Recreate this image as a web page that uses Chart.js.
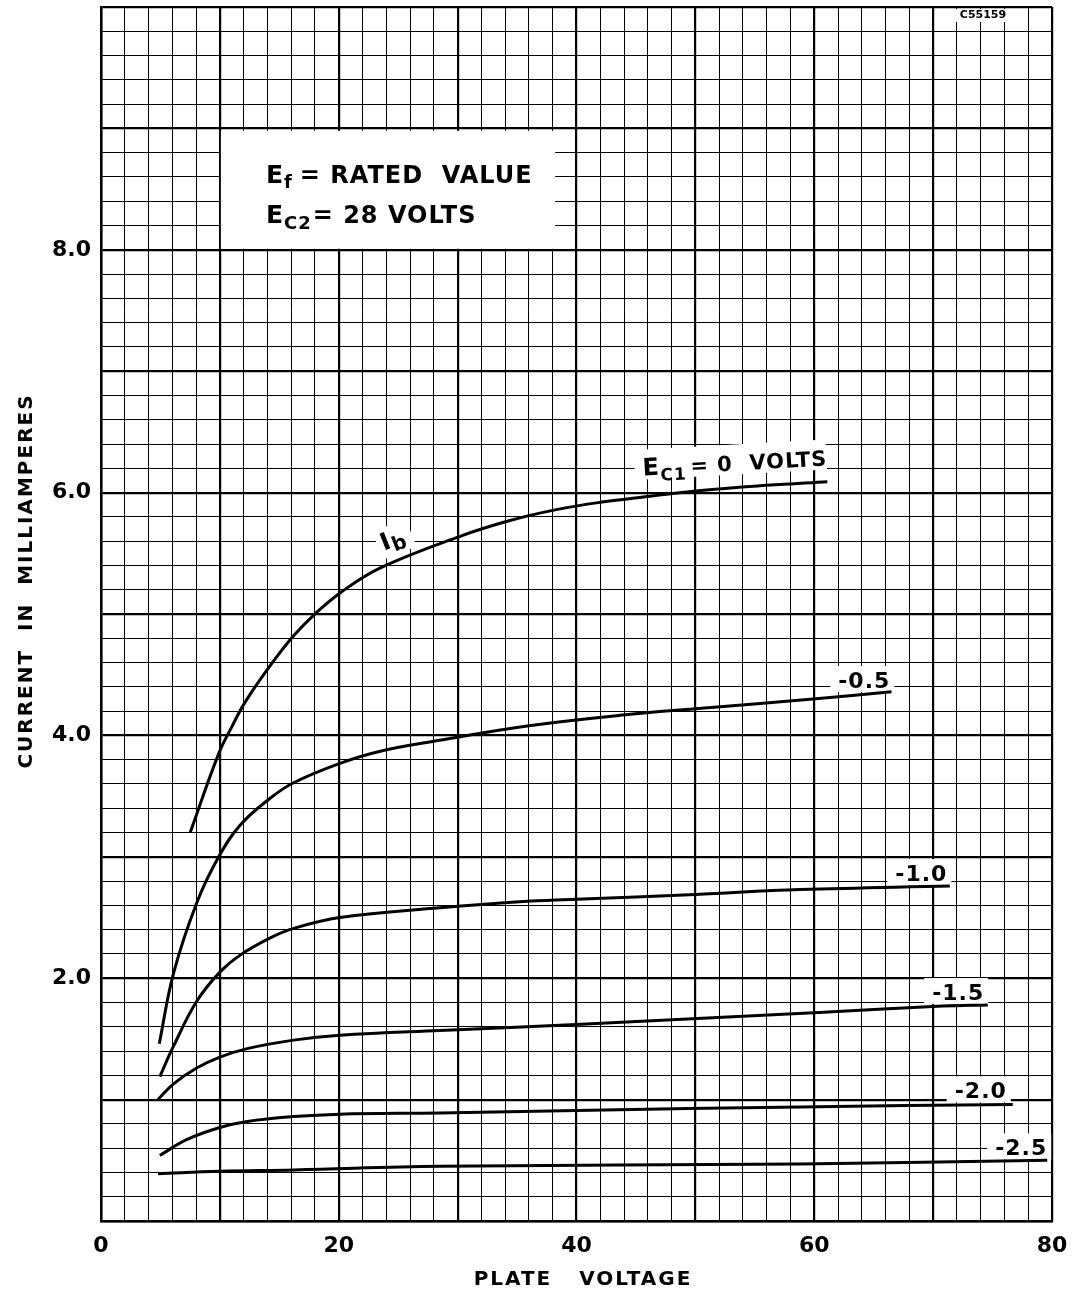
<!DOCTYPE html>
<html>
<head>
<meta charset="utf-8">
<script src="https://cdn.jsdelivr.net/npm/chart.js@4.4.1/dist/chart.umd.min.js"></script>
<style>
  body { margin: 0; background: #fff; }
  #wrap { width: 1082px; height: 1299px; }
</style>
</head>
<body>
<div id="wrap"><canvas id="plateChart"></canvas></div>
<script>
// plate voltage (V) / plate current (mA) per grid bias
const ec1Zero_v = [7.5, 9.9, 11, 12.1, 14.2, 16.2, 18.1, 20.2, 23.5, 30.2, 34.4, 38.3, 42, 46.2, 50.7, 56, 61.1];
const ec1Zero_ma = [3.20, 3.85, 4.07, 4.27, 4.57, 4.82, 5.01, 5.18, 5.38, 5.64, 5.77, 5.86, 5.92, 5.97, 6.02, 6.06, 6.09];

const ec1Half_v = [4.9, 6.1, 8.05, 9.9, 11.7, 14.2, 16.2, 20.1, 23.5, 28.5, 36, 44.1, 50, 59.9, 66.5];
const ec1Half_ma = [1.46, 2.04, 2.62, 3.00, 3.26, 3.48, 3.61, 3.77, 3.87, 3.96, 4.08, 4.17, 4.22, 4.30, 4.36];

const ec1One_v = [4.95, 6.1, 8.05, 10, 11.7, 14.2, 16.2, 20.1, 28.5, 35.2, 40, 50, 58.8, 71.4];
const ec1One_ma = [1.19, 1.44, 1.81, 2.05, 2.19, 2.33, 2.41, 2.50, 2.58, 2.63, 2.65, 2.69, 2.73, 2.76];

const ec1OneHalf_v = [4.8, 6.1, 8.05, 10, 12.3, 16.2, 20.1, 28.5, 40.4, 50.6, 60.8, 70.8, 74.6];
const ec1OneHalf_ma = [1.00, 1.13, 1.26, 1.35, 1.42, 1.49, 1.53, 1.57, 1.62, 1.67, 1.72, 1.77, 1.78];

const ec1Two_v = [4.95, 7.2, 10, 12.3, 16.2, 20.1, 28.5, 40, 58.8, 76.7];
const ec1Two_ma = [0.54, 0.67, 0.77, 0.82, 0.86, 0.88, 0.89, 0.91, 0.94, 0.96];

const ec1TwoHalf_v = [4.8, 10, 16.2, 28.5, 58.8, 79.6];
const ec1TwoHalf_ma = [0.39, 0.41, 0.42, 0.45, 0.47, 0.50];

const curveLabels = ['-0.5', '-1.0', '-1.5', '-2.0', '-2.5'];
// label anchor (right end, baseline) in data units
const curveLabelX = [66.4, 71.2, 74.3, 76.2, 79.6];
const curveLabelY = [4.39, 2.80, 1.82, 1.01, 0.54];

const xTickLabels = [0, 20, 40, 60, 80];
const yTickLabels = [2, 4, 6, 8];

const FONT = '"DejaVu Sans", sans-serif';

function pts(xs, ys) {
    return xs.map((x, i) => ({ x: x, y: ys[i] }));
}

function curve(xs, ys) {
    return {
        data: pts(xs, ys),
        showLine: true,
        borderColor: '#000',
        borderWidth: 3,
        pointRadius: 0,
        tension: 0.4,
        fill: false
    };
}

// text made of runs, some as subscripts
function drawRuns(ctx, x, y, runs) {
    let cx = x;
    runs.forEach(r => {
        ctx.font = (r.weight || 'bold') + ' ' + r.size + 'px ' + FONT;
        ctx.fillText(r.t, cx, y + (r.dy || 0));
        cx += ctx.measureText(r.t).width + (r.gap || 0);
    });
    return cx - x;
}

const decor = {
    id: 'decor',
    beforeDatasetsDraw(chart) {
        const ctx = chart.ctx;
        const xs = chart.scales.x, ys = chart.scales.y;
        ctx.save();
        ctx.letterSpacing = '1px';

        // condition box
        const bx0 = xs.getPixelForValue(10) + 1, bx1 = xs.getPixelForValue(38.2);
        const by0 = ys.getPixelForValue(8.98), by1 = ys.getPixelForValue(8.0) - 1;
        ctx.fillStyle = '#fff';
        ctx.fillRect(bx0, by0, bx1 - bx0, by1 - by0);
        ctx.fillStyle = '#000';
        ctx.textBaseline = 'alphabetic';
        drawRuns(ctx, bx0 + 45, by0 + 52, [
            { t: 'E', size: 25 }, { t: 'f', size: 18, dy: 5, gap: 7 },
            { t: '= RATED  VALUE', size: 24 }
        ]);
        drawRuns(ctx, bx0 + 45, by0 + 92, [
            { t: 'E', size: 25 }, { t: 'C2', size: 18, dy: 6, gap: 1 },
            { t: '= 28 VOLTS', size: 24 }
        ]);

        // curve labels
        ctx.font = 'bold 22px ' + FONT;
        ctx.textAlign = 'right';
        curveLabels.forEach((t, i) => {
            const px = xs.getPixelForValue(curveLabelX[i]);
            const py = ys.getPixelForValue(curveLabelY[i]);
            const w = ctx.measureText(t).width;
            ctx.fillStyle = '#fff';
            ctx.fillRect(px - w - 8, py - 22, w + 12, 26);
            ctx.fillStyle = '#000';
            ctx.fillText(t, px, py);
        });

        // E_C1 = 0 VOLTS, slightly tilted
        ctx.textAlign = 'left';
        ctx.save();
        ctx.translate(xs.getPixelForValue(45.6), ys.getPixelForValue(6.14));
        ctx.rotate(-0.055);
        ctx.fillStyle = '#fff';
        ctx.fillRect(-8, -26, 192, 30);
        ctx.fillStyle = '#000';
        drawRuns(ctx, 0, 0, [
            { t: 'E', size: 24 }, { t: 'C1', size: 17, dy: 6, gap: 4 },
            { t: '= 0  VOLTS', size: 21 }
        ]);
        ctx.restore();

        // I_b next to the top curve
        ctx.save();
        ctx.translate(xs.getPixelForValue(23.8), ys.getPixelForValue(5.52));
        ctx.rotate(-0.38);
        ctx.fillStyle = '#fff';
        ctx.fillRect(-4, -22, 36, 30);
        ctx.fillStyle = '#000';
        drawRuns(ctx, 0, 0, [
            { t: 'I', size: 24 }, { t: 'b', size: 20, dy: 5 }
        ]);
        ctx.restore();
        ctx.restore();
    },
    afterDraw(chart) {
        const ctx = chart.ctx;
        ctx.save();
        ctx.fillStyle = '#000';
        ctx.textAlign = 'center';
        ctx.textBaseline = 'middle';
        ctx.letterSpacing = '2px';
        ctx.font = 'bold 20px ' + FONT;
        ctx.fillText('PLATE   VOLTAGE', 583, 1280);
        ctx.save();
        ctx.translate(27, 581);
        ctx.rotate(-Math.PI / 2);
        ctx.fillText('CURRENT  IN  MILLIAMPERES', 0, 0);
        ctx.restore();
        ctx.letterSpacing = '0px';
        ctx.font = 'bold 11px ' + FONT;
        ctx.fillStyle = '#fff';
        ctx.fillRect(954, 9, 58, 13);
        ctx.fillStyle = '#000';
        ctx.fillText('C55159', 983, 15);
        ctx.restore();
    }
};

const canvas = document.getElementById('plateChart');
new Chart(canvas.getContext('2d'), {
    type: 'scatter',
    data: {
        datasets: [
            curve(ec1Zero_v, ec1Zero_ma),
            curve(ec1Half_v, ec1Half_ma),
            curve(ec1One_v, ec1One_ma),
            curve(ec1OneHalf_v, ec1OneHalf_ma),
            curve(ec1Two_v, ec1Two_ma),
            curve(ec1TwoHalf_v, ec1TwoHalf_ma)
        ]
    },
    options: {
        responsive: true,
        maintainAspectRatio: false,
        animation: false,
        layout: { padding: { top: 7, right: 30, left: 0, bottom: 0 } },
        plugins: {
            legend: { display: false },
            tooltip: { enabled: false }
        },
        scales: {
            x: {
                type: 'linear',
                min: 0,
                max: 80,
                afterFit: s => { s.height = 78; s.paddingLeft = 0; s.paddingRight = 0; },
                ticks: {
                    stepSize: 2,
                    autoSkip: false,
                    maxRotation: 0,
                    padding: 12,
                    color: '#000',
                    font: { family: FONT, size: 22, weight: 'bold' },
                    callback: v => xTickLabels.includes(Math.round(v)) && Math.abs(v - Math.round(v)) < 1e-6 ? String(Math.round(v)) : ''
                },
                grid: {
                    color: '#000',
                    drawTicks: false,
                    lineWidth: c => (Math.round(c.tick.value) % 10 === 0 ? 2.2 : 1)
                },
                border: { display: true, color: '#000', width: 2.5 }
            },
            y: {
                type: 'linear',
                min: 0,
                max: 10,
                afterFit: s => { s.width = 101; s.paddingTop = 0; s.paddingBottom = 0; },
                ticks: {
                    stepSize: 0.2,
                    autoSkip: false,
                    padding: 10,
                    color: '#000',
                    font: { family: FONT, size: 22, weight: 'bold' },
                    callback: v => {
                        const t = Math.round(v * 10);
                        return (t % 10 === 0 && yTickLabels.includes(t / 10)) ? (t / 10).toFixed(1) : '';
                    }
                },
                grid: {
                    color: '#000',
                    drawTicks: false,
                    lineWidth: c => (Math.round(c.tick.value * 10) % 10 === 0 ? 2.2 : 1)
                },
                border: { display: true, color: '#000', width: 2.5 }
            }
        }
    },
    plugins: [decor]
});
</script>
</body>
</html>
